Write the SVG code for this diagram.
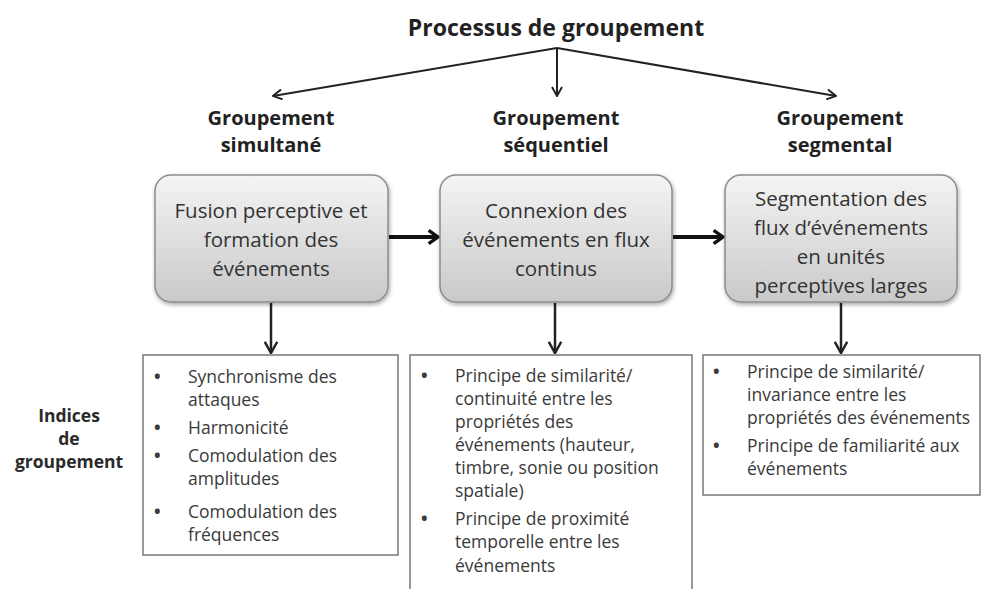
<svg xmlns="http://www.w3.org/2000/svg" width="982" height="589" viewBox="0 0 982 589">
<style>
.title{font-family:"Open Sans","Liberation Sans",sans-serif;font-weight:bold;font-size:23px;fill:#222;text-anchor:middle}
.sub{font-family:"Open Sans","Liberation Sans",sans-serif;font-weight:bold;font-size:20px;fill:#222;text-anchor:middle}
.ind{font-family:"Open Sans","Liberation Sans",sans-serif;font-weight:bold;font-size:17.5px;fill:#2a2a2a;text-anchor:middle}
.bx{font-family:"Open Sans","Liberation Sans",sans-serif;font-size:20.5px;fill:#333;text-anchor:middle}
.li{font-family:"Open Sans","Liberation Sans",sans-serif;font-size:17.5px;fill:#3a3a3a}
.bu{font-family:"Open Sans","Liberation Sans",sans-serif;font-size:17.5px;font-weight:bold;fill:#3a3a3a}
.pbox{fill:url(#g);stroke:#8c8c8c;stroke-width:1.5;filter:url(#sh)}
.lbox{fill:#fff;stroke:#777;stroke-width:1.5}
.thin{stroke:#222;stroke-width:2;fill:none;marker-end:url(#ah)}
.thick{stroke:#111;stroke-width:4;fill:none;marker-end:url(#ah2)}
</style>
<defs>
<linearGradient id="g" x1="0" y1="0" x2="0" y2="1">
<stop offset="0" stop-color="#f4f4f4"/>
<stop offset="1" stop-color="#c9c9c9"/>
</linearGradient>
<filter id="sh" x="-10%" y="-10%" width="125%" height="130%">
<feGaussianBlur in="SourceAlpha" stdDeviation="2"/>
<feOffset dx="1" dy="2" result="b"/>
<feComponentTransfer><feFuncA type="linear" slope="0.35"/></feComponentTransfer>
<feMerge><feMergeNode/><feMergeNode in="SourceGraphic"/></feMerge>
</filter>
<marker id="ah" viewBox="0 0 12 12" refX="11" refY="6" markerWidth="6" markerHeight="6" markerUnits="strokeWidth" orient="auto">
<path d="M2,1 L11,6 L2,11" fill="none" stroke="#222" stroke-width="2"/>
</marker>
<marker id="ah2" viewBox="0 0 12 12" refX="10" refY="6" markerWidth="4" markerHeight="4" markerUnits="strokeWidth" orient="auto">
<path d="M3,1 L10,6 L3,11" fill="none" stroke="#111" stroke-width="2.5"/>
</marker>
</defs>
<rect width="982" height="589" fill="#fff"/>

<g id="title"><text class="title" x="556" y="36">Processus de groupement</text></g>

<g id="connectors">
<line class="thin" x1="557" y1="48" x2="273" y2="96"/>
<line class="thin" x1="557" y1="48" x2="557" y2="96"/>
<line class="thin" x1="557" y1="48" x2="836" y2="96"/>
<line class="thick" x1="389" y1="237" x2="438" y2="237"/>
<line class="thick" x1="673" y1="237" x2="723" y2="237"/>
<line class="thin" x1="271" y1="303" x2="271" y2="353" style="stroke-width:2.5"/>
<line class="thin" x1="555" y1="303" x2="555" y2="353" style="stroke-width:2.5"/>
<line class="thin" x1="841" y1="303" x2="841" y2="353" style="stroke-width:2.5"/>
</g>

<g id="sub1"><text class="sub" x="271" y="125">Groupement</text><text class="sub" x="271" y="152">simultané</text></g>
<g id="sub2"><text class="sub" x="556" y="125">Groupement</text><text class="sub" x="556" y="152">séquentiel</text></g>
<g id="sub3"><text class="sub" x="840" y="125">Groupement</text><text class="sub" x="840" y="152">segmental</text></g>

<g id="box1">
<rect class="pbox" x="155" y="175" width="233" height="127" rx="16"/>
<text class="bx" x="271" y="218">Fusion perceptive et</text>
<text class="bx" x="271" y="247">formation des</text>
<text class="bx" x="271" y="276">événements</text>
</g>
<g id="box2">
<rect class="pbox" x="440" y="175" width="232" height="127" rx="16"/>
<text class="bx" x="556" y="218">Connexion des</text>
<text class="bx" x="556" y="247">événements en flux</text>
<text class="bx" x="556" y="276">continus</text>
</g>
<g id="box3">
<rect class="pbox" x="725" y="175" width="232" height="127" rx="16"/>
<text class="bx" x="841" y="206">Segmentation des</text>
<text class="bx" x="841" y="235">flux d’événements</text>
<text class="bx" x="841" y="264">en unités</text>
<text class="bx" x="841" y="293">perceptives larges</text>
</g>

<g id="indices">
<text class="ind" x="69" y="422">Indices</text>
<text class="ind" x="69" y="445">de</text>
<text class="ind" x="69" y="468">groupement</text>
</g>

<g id="list1">
<rect class="lbox" x="143" y="355" width="255" height="200"/>
<text class="bu" x="154" y="383">•</text><text class="li" x="188" y="383">Synchronisme des</text>
<text class="li" x="188" y="406">attaques</text>
<text class="bu" x="154" y="434">•</text><text class="li" x="188" y="434">Harmonicité</text>
<text class="bu" x="154" y="462">•</text><text class="li" x="188" y="462">Comodulation des</text>
<text class="li" x="188" y="485">amplitudes</text>
<text class="bu" x="154" y="518">•</text><text class="li" x="188" y="518">Comodulation des</text>
<text class="li" x="188" y="541">fréquences</text>
</g>

<g id="list2">
<path class="lbox" d="M410,589 V355 H692 V589"/>
<text class="bu" x="421" y="382">•</text><text class="li" x="455" y="382">Principe de similarité/</text>
<text class="li" x="455" y="405">continuité entre les</text>
<text class="li" x="455" y="428">propriétés des</text>
<text class="li" x="455" y="451">événements (hauteur,</text>
<text class="li" x="455" y="474">timbre, sonie ou position</text>
<text class="li" x="455" y="497">spatiale)</text>
<text class="bu" x="421" y="525">•</text><text class="li" x="455" y="525">Principe de proximité</text>
<text class="li" x="455" y="548">temporelle entre les</text>
<text class="li" x="455" y="572">événements</text>
</g>

<g id="list3">
<rect class="lbox" x="703" y="355" width="277" height="140"/>
<text class="bu" x="713" y="378">•</text><text class="li" x="747" y="378">Principe de similarité/</text>
<text class="li" x="747" y="401">invariance entre les</text>
<text class="li" x="747" y="424">propriétés des événements</text>
<text class="bu" x="713" y="452">•</text><text class="li" x="747" y="452">Principe de familiarité aux</text>
<text class="li" x="747" y="475">événements</text>
</g>
</svg>
